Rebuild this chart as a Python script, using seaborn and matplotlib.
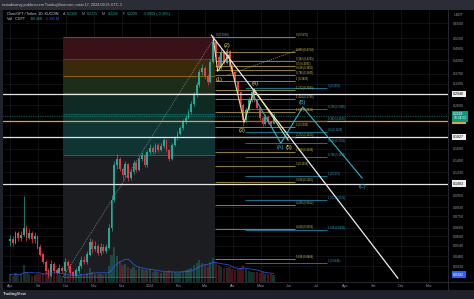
import numpy as np
import pandas as pd
import matplotlib
matplotlib.use("Agg")
import matplotlib.pyplot as plt
import matplotlib.dates as mdates
from matplotlib.patches import Rectangle
from matplotlib.lines import Line2D
from matplotlib.ticker import NullLocator
from matplotlib.transforms import blended_transform_factory
import seaborn as sns

sns.set_theme(style="dark")
plt.rcParams["font.family"] = ["Liberation Sans", "DejaVu Sans"]

# ---------------- price data (3-day candles, CGPT/USDT) ----------------
candle_start = "2023-08-01"
candle_step_days = 3
first_open = 0.057
closes = [0.058, 0.056, 0.062, 0.059, 0.061, 0.066, 0.059, 0.062, 0.058, 0.060,
          0.053, 0.049, 0.045, 0.041, 0.0385, 0.044, 0.041, 0.040, 0.042, 0.041,
          0.045, 0.043, 0.040, 0.0385, 0.041, 0.043, 0.046, 0.045, 0.049, 0.056,
          0.052, 0.054, 0.050, 0.053, 0.051, 0.053, 0.066, 0.090, 0.133, 0.143,
          0.128, 0.119, 0.135, 0.115, 0.123, 0.137, 0.126, 0.143, 0.149, 0.133,
          0.154, 0.162, 0.154, 0.167, 0.158, 0.165, 0.176, 0.158, 0.143, 0.167,
          0.180, 0.189, 0.201, 0.215, 0.226, 0.241, 0.263, 0.291, 0.326, 0.376,
          0.395, 0.361, 0.337, 0.421, 0.530, 0.447, 0.396, 0.471, 0.418, 0.477,
          0.400, 0.376, 0.337, 0.300, 0.261, 0.220, 0.247, 0.276, 0.300, 0.276,
          0.252, 0.226, 0.211, 0.229, 0.215, 0.211, 0.2299]
highs = [0.061, 0.060, 0.064, 0.064, 0.064, 0.094, 0.068, 0.065, 0.064, 0.063,
         0.061, 0.055, 0.050, 0.046, 0.042, 0.046, 0.045, 0.042, 0.044, 0.043,
         0.047, 0.046, 0.044, 0.041, 0.042, 0.045, 0.048, 0.048, 0.051, 0.059,
         0.058, 0.057, 0.055, 0.056, 0.055, 0.055, 0.069, 0.095, 0.140, 0.150,
         0.146, 0.131, 0.139, 0.137, 0.128, 0.141, 0.139, 0.147, 0.155, 0.151,
         0.158, 0.168, 0.165, 0.171, 0.170, 0.170, 0.181, 0.178, 0.160, 0.171,
         0.185, 0.195, 0.207, 0.222, 0.234, 0.249, 0.272, 0.301, 0.338, 0.390,
         0.412, 0.402, 0.368, 0.436, 0.558, 0.541, 0.455, 0.485, 0.478, 0.492,
         0.484, 0.410, 0.382, 0.342, 0.305, 0.266, 0.254, 0.284, 0.309, 0.304,
         0.280, 0.256, 0.230, 0.236, 0.233, 0.219, 0.2371]
lows = [0.054, 0.054, 0.055, 0.057, 0.057, 0.060, 0.057, 0.058, 0.056, 0.056,
        0.052, 0.048, 0.044, 0.040, 0.0378, 0.038, 0.040, 0.039, 0.0395, 0.040,
        0.0405, 0.042, 0.039, 0.0378, 0.038, 0.040, 0.042, 0.044, 0.044, 0.048,
        0.050, 0.051, 0.049, 0.049, 0.050, 0.050, 0.052, 0.064, 0.088, 0.128,
        0.124, 0.113, 0.116, 0.112, 0.113, 0.121, 0.123, 0.124, 0.140, 0.130,
        0.131, 0.151, 0.150, 0.152, 0.155, 0.156, 0.162, 0.154, 0.139, 0.141,
        0.165, 0.176, 0.186, 0.197, 0.211, 0.222, 0.237, 0.258, 0.286, 0.320,
        0.366, 0.350, 0.327, 0.332, 0.415, 0.436, 0.385, 0.390, 0.410, 0.412,
        0.392, 0.368, 0.330, 0.294, 0.255, 0.206, 0.216, 0.243, 0.271, 0.270,
        0.247, 0.221, 0.206, 0.208, 0.211, 0.207, 0.2100]
volumes_m = [1.2, 1.0, 1.4, 1.1, 1.3, 2.6, 1.5, 1.2, 1.0, 1.1,
             1.3, 1.2, 1.4, 1.5, 1.8, 1.6, 1.2, 1.0, 1.1, 0.9,
             1.3, 1.0, 1.1, 1.2, 1.0, 1.1, 1.3, 1.0, 1.4, 2.2,
             1.6, 1.3, 1.2, 1.3, 1.1, 1.2, 2.5, 4.2, 5.5, 4.0,
             3.2, 2.6, 2.8, 2.4, 2.0, 2.3, 1.9, 2.1, 2.0, 1.8,
             1.9, 2.0, 1.6, 1.7, 1.5, 1.4, 1.6, 1.5, 1.8, 1.6,
             1.5, 1.4, 1.6, 1.7, 1.8, 2.0, 2.2, 2.6, 3.0, 3.4,
             3.0, 2.6, 2.4, 3.1, 3.8, 3.0, 2.6, 2.4, 2.2, 2.1,
             2.3, 2.0, 1.9, 2.0, 2.2, 2.6, 2.0, 1.7, 1.6, 1.5,
             1.5, 1.4, 1.5, 1.3, 1.2, 1.2, 1.1]

# ---------------- drawings ----------------
retr_low_date, retr_high_date = "2023-09-28", "2024-03-12"
retr_low, retr_high = 0.0381, 0.5586
retr_ratios = [0, 0.236, 0.382, 0.5, 0.618, 0.786, 1]
retr_fill = ["#3a1117", "#3a2a09", "#1e2d17", "#0d2b23", "#0e3434", "#1c1d20"]
retr_edge = ["#787b86", "#c2303c", "#d98a12", "#3f8f44", "#0b7c6c", "#0aa0b4", "#787b86"]

ext_start, ext_end = "2024-03-12", "2024-06-08"
ext_ratios = [0, 0.236, 0.382, 0.5, 0.618, 0.786, 1, 1.272, 1.414, 1.618,
              2, 2.272, 2.618, 3, 3.618, 4.236, 4.618, 5.618]
ext_prices = [0.5575, 0.4714, 0.4263, 0.4031, 0.3855, 0.3645, 0.3409, 0.3083, 0.2788,
              0.2411, 0.2039, 0.1823, 0.1542, 0.1318, 0.1102, 0.0852, 0.0652, 0.0466]

cyan_start, cyan_end = "2024-04-14", "2024-07-13"
cyan_ratios = [0, 0.236, 0.382, 0.5, 0.618, 0.786, 1, 1.272, 1.618, 2]
cyan_prices = [0.3153, 0.2493, 0.2180, 0.1928, 0.1705, 0.1458, 0.1179, 0.0901, 0.0645, 0.0446]

h_levels = [0.2948, 0.2182, 0.1827, 0.1083]
h_colors = ["#e6e6e6", "#f0a020", "#e6e6e6", "#e6e6e6"]
last_price = 0.2299

wave_dates = ["2024-03-10", "2024-03-15", "2024-03-27", "2024-04-13", "2024-04-24", "2024-05-31"]
wave_prices = [0.5586, 0.380, 0.455, 0.215, 0.310, 0.176]
wave_names = ["(1)", "(2)", "(3)", "(4)", "(5)"]
wave_label_dates = ["2024-03-17", "2024-03-25", "2024-04-11", "2024-04-25", "2024-06-01"]
wave_label_prices = [0.345, 0.505, 0.197, 0.330, 0.163]

abc_dates = ["2024-04-21", "2024-05-23", "2024-06-16", "2024-08-20"]
abc_prices = [0.300, 0.170, 0.255, 0.115]
abc_names = ["(A)", "(B)", "(C)"]
abc_label_dates = ["2024-05-22", "2024-06-16", "2024-08-20"]
abc_label_prices = [0.163, 0.268, 0.105]

trend_dates = ["2024-03-08", "2024-09-28"]
trend_prices = [0.570, 0.0376]
guide_dates = ["2024-03-26", "2024-06-13"]
guide_prices = [0.3645, 0.4861]

price_ticks = [0.65, 0.55, 0.49, 0.43, 0.37, 0.33, 0.26, 0.16, 0.14, 0.123,
               0.095, 0.083, 0.075, 0.066, 0.060, 0.054, 0.048, 0.043]
month_starts = pd.date_range("2023-08-01", "2024-11-01", freq="MS")
month_labels = ["Ago", "Set", "Out", "Nov", "Dez", "2024", "Fev", "Mar", "Abr",
                "Maio", "Jun", "Jul", "Ago", "Set", "Out", "Nov"]

# ---------------- figure ----------------
W, H = 474, 299
fig = plt.figure(figsize=(W / 100, H / 100), dpi=100, facecolor="black")

def fx(px):
    return px / W

def fy(py):
    return 1 - py / H

ax = fig.add_axes([fx(3), fy(282), fx(445), 272 / H])
ax.set_facecolor("black")
ax.set_yscale("log")
ax.set_ylim(0.03606, 0.7539)
base = mdates.date2num(pd.Timestamp("2023-08-01"))
ax.set_xlim(base - 7.65, base + 478.7)

def d(s):
    return mdates.date2num(pd.Timestamp(s))

# grid
for m in month_starts:
    ax.axvline(mdates.date2num(m), color="#15181e", lw=0.5, zorder=0)
for t in price_ticks:
    ax.axhline(t, color="#15181e", lw=0.5, zorder=0)

# fib retracement box
x0, x1 = d(retr_low_date), d(retr_high_date)
levels = [retr_high - r * (retr_high - retr_low) for r in retr_ratios]
for i in range(len(levels) - 1):
    ax.fill_between([x0, x1], levels[i + 1], levels[i], color=retr_fill[i], lw=0, zorder=1)
for lv, c in zip(levels, retr_edge):
    ax.hlines(lv, x0, x1, color=c, lw=0.5, alpha=0.8, zorder=1.5)
ax.plot([x0, x1], [retr_low, retr_high], color="#8a8d96", lw=0.5, ls=(0, (1.5, 1.5)), zorder=2)
ax.text(x1 + 1, retr_high, f"0 ({retr_high:.4f})", color="#9598a1", fontsize=2.0,
        va="bottom", ha="left", zorder=6)

# candles
dates = pd.date_range(candle_start, periods=len(closes), freq=f"{candle_step_days}D")
xd = mdates.date2num(dates)
opens = [first_open] + closes[:-1]
up = np.array(closes) >= np.array(opens)
col = np.where(up, "#22ab94", "#f23645")
ax.vlines(xd, lows, highs, colors=col, lw=0.5, zorder=3)
ax.bar(xd, np.abs(np.array(closes) - np.array(opens)) + 1e-4,
       bottom=np.minimum(closes, opens), width=2.0, color=col, lw=0, zorder=3)

# horizontal levels
for lv, c in zip(h_levels, h_colors):
    ax.axhline(lv, color=c, lw=0.9, zorder=4)
ax.axhline(last_price, color="#22ab94", lw=0.5, ls=(0, (1, 1.5)), zorder=4)

# fib extension (yellow)
for r, p in zip(ext_ratios, ext_prices):
    ax.hlines(p, d(ext_start), d(ext_end), color="#a8982c", lw=0.6, zorder=4)
    ax.text(d(ext_end) + 1, p, f"{r:g} ({p:.4f})", color="#d9c54a", fontsize=1.9,
            va="bottom", ha="left", zorder=6)
# fib extension (cyan)
for r, p in zip(cyan_ratios, cyan_prices):
    ax.hlines(p, d(cyan_start), d(cyan_end), color="#1a84a6", lw=0.6, zorder=4)
    ax.text(d(cyan_end) + 1, p, f"{r:g} ({p:.4f})", color="#2fa8cf", fontsize=1.9,
            va="bottom", ha="left", zorder=6)

ax.plot([d(s) for s in guide_dates], guide_prices, color="#b9ad5a", lw=0.5,
        ls=(0, (1.5, 1.5)), zorder=4)

# trend line and wave counts
trend_df = pd.DataFrame({"date": [d(s) for s in trend_dates], "price": trend_prices})
sns.lineplot(data=trend_df, x="date", y="price", ax=ax, color="#f0f0f0", lw=0.9,
             sort=False, zorder=5)
wave_df = pd.DataFrame({"date": [d(s) for s in wave_dates], "price": wave_prices})
sns.lineplot(data=wave_df, x="date", y="price", ax=ax, color="#e8dc8c", lw=0.8,
             sort=False, zorder=5)
abc_df = pd.DataFrame({"date": [d(s) for s in abc_dates], "price": abc_prices})
sns.lineplot(data=abc_df, x="date", y="price", ax=ax, color="#2bb5c9", lw=0.8,
             sort=False, zorder=5)
for n, xs, p in zip(wave_names, wave_label_dates, wave_label_prices):
    ax.text(d(xs), p, n, color="#f0dc50", fontsize=4, ha="center", va="center", zorder=7)
for n, xs, p in zip(abc_names, abc_label_dates, abc_label_prices):
    ax.text(d(xs), p, n, color="#2bb5c9", fontsize=4, ha="center", va="center", zorder=7)

# axes styling
ax.yaxis.tick_right()
ax.yaxis.set_minor_locator(NullLocator())
ax.set_yticks(price_ticks)
ax.set_yticklabels([f"{t:.4f}" for t in price_ticks])
ax.set_xticks(mdates.date2num(month_starts))
ax.set_xticklabels(month_labels)
ax.tick_params(axis="both", length=0, labelsize=2.6, colors="#9598a1")
ax.tick_params(axis="y", pad=3.5)
ax.tick_params(axis="x", pad=1.5)
ax.set_xlabel("")
ax.set_ylabel("")
ax.grid(False)
for s in ax.spines.values():
    s.set_visible(False)

# volume pane
axv = fig.add_axes(ax.get_position(), sharex=ax)
axv.patch.set_alpha(0)
axv.set_ylim(0, max(volumes_m) / 0.13)
vcol = np.where(up, "#1f8a7a", "#b03040")
axv.bar(xd, volumes_m, width=2.4, color=vcol, alpha=0.4, lw=0)
vol_ma = pd.Series(volumes_m).rolling(7, min_periods=1).mean()
sns.lineplot(x=xd, y=vol_ma.values, ax=axv, color="#2962ff", lw=0.6, alpha=0.85)
axv.axis("off")
axv.set_xlim(ax.get_xlim())

# right-axis price tags
tr = blended_transform_factory(ax.transAxes, ax.transData)
tags = [(0.2948, "#f0f0f0", "black"), (0.2182, "#f0a020", "black"),
        (0.1827, "#f0f0f0", "black"), (0.1083, "#f0f0f0", "black")]
for p, bg, fg in tags:
    ax.text(1.012, p, f"{p:.4f}", transform=tr, fontsize=2.6, color=fg, ha="left",
            va="center", clip_on=False, zorder=10,
            bbox=dict(boxstyle="square,pad=0.35", fc=bg, ec="none"))
ax.text(1.012, last_price, f"{last_price:.4f}\n10:34:52", transform=tr, fontsize=2.4,
        color="white", ha="left", va="center", clip_on=False, zorder=10, linespacing=1.1,
        bbox=dict(boxstyle="square,pad=0.35", fc="#089981", ec="none"))
ax.text(1.012, 0.0392, "0.0392", transform=tr, fontsize=2.6, color="white", ha="left",
        va="center", clip_on=False, zorder=10,
        bbox=dict(boxstyle="square,pad=0.35", fc="#2962ff", ec="none"))
fig.text(fx(454), fy(15), "USDT", fontsize=2.6, color="#9598a1", va="center")

# frame lines, header and footer
fig.add_artist(Line2D([fx(448), fx(448)], [fy(10), fy(290)], color="#2a2e39", lw=0.6))
fig.add_artist(Line2D([0, 1], [fy(282), fy(282)], color="#2a2e39", lw=0.6))
fig.add_artist(Rectangle((0, fy(299)), fx(3), 1, color="#1e222a", lw=0))
fig.add_artist(Rectangle((0, fy(10)), 1, 10 / H, color="#2a2d35", lw=0))
fig.add_artist(Rectangle((0, 0), 1, 9 / H, color="#1e222a", lw=0))
fig.text(fx(2), fy(5), "ersiodrioevg publicou em TradingView.com, maio 17, 2024 09:25 UTC-3",
         fontsize=2.7, color="#c8cad0", va="center")
fig.text(fx(3), fy(294.5), "TradingView", fontsize=3.0, color="#d1d4dc",
         va="center", weight="bold")

legend1 = [(7, "ChainGPT / Tether, 1D, KUCOIN", "#d1d4dc"), (63, "A", "#9598a1"),
           (67, "0.2300", "#22ab94"), (82, "M", "#9598a1"), (87, "0.2371", "#22ab94"),
           (102, "Mi", "#9598a1"), (108, "0.2256", "#22ab94"), (123, "F", "#9598a1"),
           (127, "0.2299", "#22ab94"), (143, "-0.0009 (-0.39%)", "#22ab94")]
for px, s, c in legend1:
    fig.text(fx(px), fy(14), s, fontsize=2.6, color=c, va="center")
legend2 = [(7, "Vol · CGPT", "#d1d4dc"), (30, "390.46K", "#22ab94"), (46, "1.393 M", "#2962ff")]
for px, s, c in legend2:
    fig.text(fx(px), fy(19.5), s, fontsize=2.6, color=c, va="center")

fig.savefig("out.png", dpi=100, facecolor="black")
